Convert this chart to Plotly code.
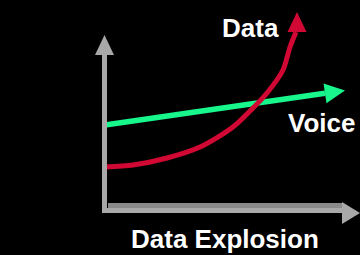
import numpy as np
import plotly.graph_objects as go

# Conceptual units: x = time, y = traffic volume (origin at axis corner)
time_data = [1, 29, 63, 96, 129, 149, 163, 179, 186, 192]
data_traffic = [43, 45, 52, 63, 83, 102, 117, 140, 163, 178]
data_tip = (193, 198)

time_voice = [1, 221]
voice_traffic = [85, 116.7]
voice_tip = (241, 119.6)

labels = {"data": "Data", "voice": "Voice", "title": "Data Explosion"}

GREEN = "#17F78C"
RED = "#D00833"
GRAY = "#A8A8A8"
DARK = "#8A8A8A"


def head(base, tip, half):
    bx, by = base
    tx, ty = tip
    dx, dy = tx - bx, ty - by
    n = np.hypot(dx, dy)
    px, py = -dy / n * half, dx / n * half
    return [bx + px, tx, bx - px, bx + px], [by + py, ty, by - py, by + py]


fig = go.Figure()

# axes (decoration)
shapes = [
    dict(type="line", x0=0.5, y0=-3, x1=0.5, y1=156, line=dict(color=GRAY, width=5)),
    dict(type="line", x0=-2, y0=-0.5, x1=239, y1=-0.5, line=dict(color=GRAY, width=5)),
    dict(type="line", x0=4, y0=4.5, x1=239, y1=4.5, line=dict(color=DARK, width=5)),
]
hx, hy = head((0.5, 155), (0.5, 175), 9.5)
shapes.append(dict(type="path", path="M%f,%f L%f,%f L%f,%f Z" % (hx[0], hy[0], hx[1], hy[1], hx[2], hy[2]),
                   fillcolor=GRAY, line=dict(width=0)))
hx, hy = head((238, -3), (256, -3), 11)
shapes.append(dict(type="path", path="M%f,%f L%f,%f L%f,%f Z" % (hx[0], hy[0], hx[1], hy[1], hx[2], hy[2]),
                   fillcolor=GRAY, line=dict(width=0)))

# voice line
fig.add_trace(go.Scatter(x=time_voice, y=voice_traffic, mode="lines",
                         line=dict(color=GREEN, width=5.5), hoverinfo="skip"))
hx, hy = head((time_voice[-1], voice_traffic[-1]), voice_tip, 10)
fig.add_trace(go.Scatter(x=hx, y=hy, mode="lines", fill="toself", fillcolor=GREEN,
                         line=dict(width=0, color=GREEN), hoverinfo="skip"))

# data curve
fig.add_trace(go.Scatter(x=time_data, y=data_traffic, mode="lines",
                         line=dict(color=RED, width=5, shape="spline", smoothing=0.8), hoverinfo="skip"))
hx, hy = head((time_data[-1] + 1, data_traffic[-1]), data_tip, 9.5)
fig.add_trace(go.Scatter(x=hx, y=hy, mode="lines", fill="toself", fillcolor=RED,
                         line=dict(width=0, color=RED), hoverinfo="skip"))

font = dict(family="Liberation Sans, Arial, sans-serif", size=26, color="white")
annotations = [
    dict(x=146.5, y=182.5, text="<b>%s</b>" % labels["data"], showarrow=False, font=font,
         xanchor="center", yanchor="middle"),
    dict(x=217, y=87, text="<b>%s</b>" % labels["voice"], showarrow=False, font=font,
         xanchor="center", yanchor="middle"),
    dict(x=121, y=-29, text="<b>%s</b>" % labels["title"], showarrow=False, font=font,
         xanchor="center", yanchor="middle"),
]

fig.update_layout(
    width=360, height=255,
    margin=dict(l=0, r=0, t=0, b=0),
    paper_bgcolor="black", plot_bgcolor="black",
    showlegend=False,
    shapes=shapes,
    annotations=annotations,
    xaxis=dict(range=[-104, 256], visible=False, fixedrange=True),
    yaxis=dict(range=[-45, 210], visible=False, fixedrange=True),
)

fig.write_html("out.html", config={"displayModeBar": False},
               post_script="document.body.style.margin='0';document.body.style.background='black';")
